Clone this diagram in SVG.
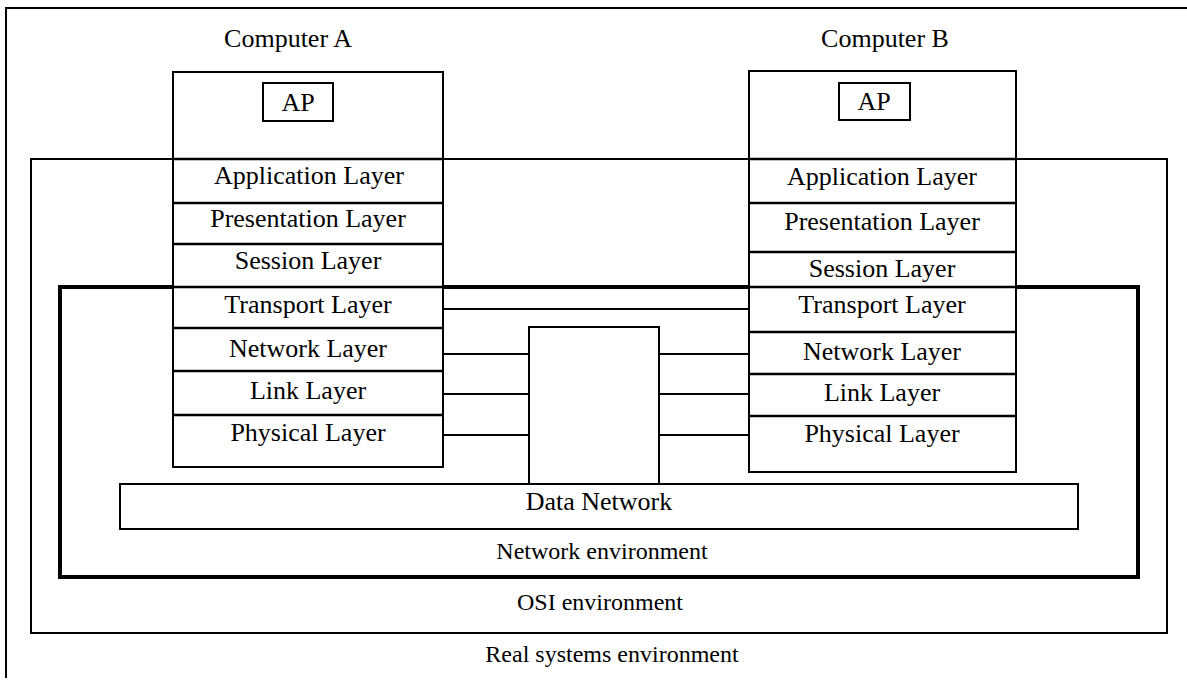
<svg xmlns="http://www.w3.org/2000/svg" width="1187" height="680" viewBox="0 0 1187 680">
<style>
  .box { fill: #fff; stroke: #000; stroke-width: 2; }
  .env { fill: none; stroke: #000; stroke-width: 2; }
  .netenv { fill: none; stroke: #000; stroke-width: 4; }
  .div { stroke: #000; stroke-width: 2.5; }
  .con { stroke: #000; stroke-width: 2; fill: none; }
  .t { font-family: "Liberation Serif", "Times New Roman", serif; font-size: 26px; fill: #000; text-anchor: middle; }
  .e { font-family: "Liberation Serif", "Times New Roman", serif; font-size: 24px; fill: #000; text-anchor: middle; }
</style>
<rect width="1187" height="680" fill="#fff"/>

<g id="real-systems-environment">
  <path class="env" d="M6,678 L6,8 L1187,8"/>
  <text class="e" x="612" y="662">Real systems environment</text>
</g>

<g id="osi-environment">
  <rect class="env" x="31" y="159" width="1136" height="474"/>
  <text class="e" x="600" y="610">OSI environment</text>
</g>

<g id="network-environment">
  <rect class="netenv" x="60" y="287" width="1078" height="290"/>
  <text class="e" x="602" y="559">Network environment</text>
</g>

<g id="connectors">
  <line class="con" x1="443" y1="309" x2="749" y2="309"/>
  <line class="con" x1="443" y1="354" x2="529" y2="354"/>
  <line class="con" x1="659" y1="354" x2="749" y2="354"/>
  <line class="con" x1="443" y1="394" x2="529" y2="394"/>
  <line class="con" x1="659" y1="394" x2="749" y2="394"/>
  <line class="con" x1="443" y1="435" x2="529" y2="435"/>
  <line class="con" x1="659" y1="435" x2="749" y2="435"/>
  <line class="con" x1="298" y1="121" x2="298" y2="159"/>
  <line class="con" x1="874" y1="120" x2="874" y2="159"/>
</g>

<g id="relay-node">
  <path class="box" d="M529,484 L529,327 L659,327 L659,484"/>
</g>

<g id="data-network">
  <rect class="box" x="120" y="484" width="958" height="45"/>
  <text class="t" x="599" y="510">Data Network</text>
</g>

<g id="computer-a">
  <rect class="box" x="173" y="72" width="270" height="395"/>
  <line class="div" x1="173" y1="159" x2="443" y2="159"/>
  <line class="div" x1="173" y1="203" x2="443" y2="203"/>
  <line class="div" x1="173" y1="244" x2="443" y2="244"/>
  <line class="div" x1="173" y1="287" x2="443" y2="287"/>
  <line class="div" x1="173" y1="328" x2="443" y2="328"/>
  <line class="div" x1="173" y1="371" x2="443" y2="371"/>
  <line class="div" x1="173" y1="415" x2="443" y2="415"/>
  <text class="t" x="288" y="47">Computer A</text>
  <text class="t" x="309" y="184">Application Layer</text>
  <text class="t" x="308" y="227">Presentation Layer</text>
  <text class="t" x="308" y="269">Session Layer</text>
  <text class="t" x="308" y="313">Transport Layer</text>
  <text class="t" x="308" y="357">Network Layer</text>
  <text class="t" x="308" y="399">Link Layer</text>
  <text class="t" x="308" y="441">Physical Layer</text>
</g>

<g id="ap-a">
  <rect class="box" x="263" y="83" width="70" height="38"/>
  <text class="t" x="298" y="111">AP</text>
</g>

<g id="computer-b">
  <rect class="box" x="749" y="71" width="267" height="401"/>
  <line class="div" x1="749" y1="159" x2="1016" y2="159"/>
  <line class="div" x1="749" y1="203" x2="1016" y2="203"/>
  <line class="div" x1="749" y1="252" x2="1016" y2="252"/>
  <line class="div" x1="749" y1="287" x2="1016" y2="287"/>
  <line class="div" x1="749" y1="332" x2="1016" y2="332"/>
  <line class="div" x1="749" y1="374" x2="1016" y2="374"/>
  <line class="div" x1="749" y1="416" x2="1016" y2="416"/>
  <text class="t" x="885" y="47">Computer B</text>
  <text class="t" x="882" y="185">Application Layer</text>
  <text class="t" x="882" y="230">Presentation Layer</text>
  <text class="t" x="882" y="277">Session Layer</text>
  <text class="t" x="882" y="313">Transport Layer</text>
  <text class="t" x="882" y="360">Network Layer</text>
  <text class="t" x="882" y="401">Link Layer</text>
  <text class="t" x="882" y="442">Physical Layer</text>
</g>

<g id="ap-b">
  <rect class="box" x="839" y="83" width="71" height="37"/>
  <text class="t" x="874" y="110">AP</text>
</g>
</svg>
